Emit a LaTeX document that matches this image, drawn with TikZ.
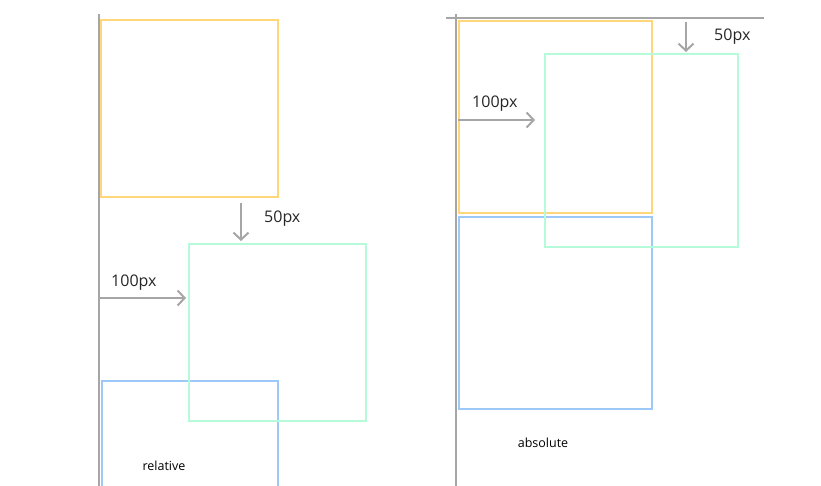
\documentclass[tikz,border=0pt]{standalone}
\usepackage{fontspec}
\setmainfont{Open Sans}
\usetikzlibrary{arrows.meta}
\definecolor{guide}{HTML}{A6A6A6}
\definecolor{ybox}{HTML}{FFD77A}
\definecolor{gbox}{HTML}{B5FBDA}
\definecolor{bbox}{HTML}{9CC8FA}
\tikzset{
  guideline/.style={draw=guide, line width=2.4pt},
  measure/.style={draw=guide, line width=2pt, -{Straight Barb[length=7pt,width=15pt,line width=2pt]}},
  boxy/.style={draw=ybox, line width=2.8pt},
  boxg/.style={draw=gbox, line width=2.8pt},
  boxb/.style={draw=bbox, line width=2.8pt},
  lbl/.style={inner sep=0pt, font=\fontsize{16}{19}\selectfont, text=black!85},
  captext/.style={inner sep=0pt, font=\fontsize{12.5}{14}\selectfont, text=black}
}
\begin{document}
\begin{tikzpicture}[x=1pt,y=-1pt]
\useasboundingbox (0,0) rectangle (821,485);
\clip (0,0) rectangle (821,485);
% ---------- left panel (relative) ----------
\draw[guideline] (99,14) -- (99,486);
\draw[boxy] (101,20) rectangle (278,197);
\draw[boxb] (102,381) rectangle (278,500);
\draw[boxg] (189,244) rectangle (366,421);
\coordinate (ldtop) at (241,203);
\coordinate (ldbot) at (241,241);
\draw[measure] (ldtop) -- (ldbot);
\node[lbl, anchor=west] (l50) at (264,219) {50px};
\coordinate (lrleft) at (99,298);
\coordinate (lrright) at (186,298);
\draw[measure] (lrleft) -- (lrright);
\node[lbl, anchor=west] (l100) at (111,283) {100px};
\node[captext] (lrel) at (164,466) {relative};
% ---------- right panel (absolute) ----------
\draw[guideline] (456,14) -- (456,486);
\draw[guideline] (446,18) -- (764,18);
\draw[boxy] (459,21) rectangle (652,213);
\draw[boxb] (459,217) rectangle (652,409);
\draw[boxg] (545,54) rectangle (738,247);
\coordinate (rdtop) at (686,22);
\coordinate (rdbot) at (686,52);
\draw[measure] (rdtop) -- (rdbot);
\node[lbl, anchor=west] (r50) at (714,37) {50px};
\coordinate (rrleft) at (458,120);
\coordinate (rrright) at (535,120);
\draw[measure] (rrleft) -- (rrright);
\node[lbl, anchor=west] (r100) at (472,104) {100px};
\node[captext] (rabs) at (543,443) {absolute};
\end{tikzpicture}
\end{document}
